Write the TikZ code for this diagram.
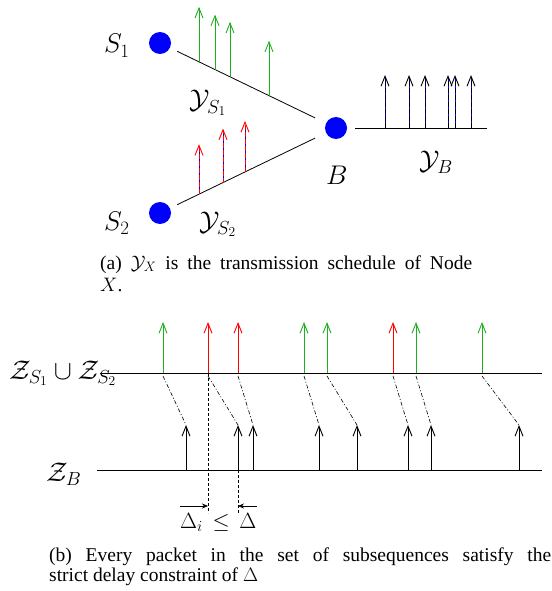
\RequirePackage{fix-cm}
\documentclass[tikz,border=0pt]{standalone}
\usepackage[no-math]{fontspec}
\setmainfont{Liberation Serif}
\usetikzlibrary{calc,arrows.meta}
\definecolor{gr}{RGB}{30,175,30}
\begin{document}
\begin{tikzpicture}[x=1pt,y=-1pt,
  dot/.style={circle,fill=blue,inner sep=0pt,minimum size=22pt},
  lab/.style={font=\fontsize{27}{32}\selectfont,inner sep=0pt,anchor=base west},
  dlab/.style={font=\fontsize{22}{26}\selectfont,inner sep=0pt,anchor=base west},
  captext/.style={font=\fontsize{19.5}{22}\selectfont,inner sep=0pt,anchor=base west},
  tip/.style={-{Straight Barb[length=10pt,width=8pt,line width=0.9pt]}},
  link/.style={line width=0.8pt,black},
  garrow/.style={tip,draw=gr,line width=0.9pt},
  redund/.style={draw=blue,line width=0.6pt},
  reddash/.style={tip,draw=red,line width=0.9pt,dash pattern=on 5pt off 2pt},
  blkdash/.style={tip,draw=black,line width=0.9pt,dash pattern=on 5pt off 2pt},
  barrow/.style={tip,draw=black,line width=0.9pt},
  conn/.style={draw=black,line width=0.6pt,dash pattern=on 4pt off 2pt on 1pt off 2pt},
  guide/.style={draw=black,line width=0.7pt,dash pattern=on 3pt off 2pt},
  delta/.style={-{Stealth[length=6pt,width=5pt]},line width=0.6pt}
]
\useasboundingbox (0,0) rectangle (551,591);

% ---------- (a) ----------
\node[dot] (S1) at (160,43) {};
\node[dot] (S2) at (160,213) {};
\node[dot] (B) at (336,128) {};
\draw[link,shorten <=8pt,shorten >=12pt] (S1) -- (B);
\draw[link,shorten <=8pt,shorten >=12pt] (S2) -- (B);

\node[lab] (lS1) at (104,53) {$S_1$};
\node[lab] (lS2) at (104,230) {$S_2$};
\node[lab] (lB) at (326,184) {$B$};
\node[lab] (lYS1) at (189,109) {$\mathcal{Y}_{S_1}$};
\node[lab] (lYS2) at (199,230) {$\mathcal{Y}_{S_2}$};
\node[lab] (lYB) at (419,169) {$\mathcal{Y}_{B}$};

% green arrows on S1--B
\foreach \t/\n in {0.2216/1,0.3125/2,0.3977/3,0.6193/4}{
  \coordinate (g\n) at ($(S1)!\t!(B)$);
  \draw[garrow] (g\n) -- ++(0,-55);
}
% red arrows on S2--B
\foreach \t/\l/\n in {0.2216/50/1,0.358/54/2,0.483/51/3}{
  \coordinate (r\n) at ($(S2)!\t!(B)$);
  \draw[redund] (r\n) -- ++(0,-\l+4);
  \draw[reddash] (r\n) -- ++(0,-\l);
}
% B output line
\coordinate (Bl) at (355,128);
\coordinate (Br) at (487,128);
\draw[link] (Bl) -- (Br);
\foreach \x/\n in {385/1,409/2,425/3,448/4,455/5,471/6}{
  \coordinate (o\n) at (\x,128);
  \draw[redund] (o\n) -- ++(0,-49);
  \draw[blkdash] (o\n) -- ++(0,-53);
}

\node[captext] (capa1) at (100,269) {\makebox[372pt][s]{(a) $\mathcal{Y}_X$ is the transmission schedule of Node}};
\node[captext] (capa2) at (100,291) {$X$.};

% ---------- (b) ----------
\coordinate (TL) at (100,373);
\coordinate (TR) at (542,373);
\coordinate (BL) at (97,470);
\coordinate (BR) at (542,470);
\draw[link] (TL) -- (TR);
\draw[link] (BL) -- (BR);

\node[lab] (lZS) at (9,379) {$\mathcal{Z}_{S_1}\cup\mathcal{Z}_{S_2}$};
\node[lab] (lZB) at (46,481) {$\mathcal{Z}_B$};

\foreach \xt/\xb/\c/\n in {163/186/gr/1,208/238/red/2,238/253/red/3,304/319/gr/4,327/357/gr/5,393/408/red/6,416/431/gr/7,482/519/gr/8}{
  \coordinate (t\n) at (\xt,373);
  \coordinate (b\n) at (\xb,470);
  \coordinate (bt\n) at (\xb,425);
  \draw[tip,draw=\c,line width=0.9pt] (t\n) -- ++(0,-51);
  \draw[barrow] (b\n) -- (bt\n);
  \draw[conn] ($(t\n)+(0,3)$) -- (bt\n);
}

\coordinate (g2) at (208,513);
\coordinate (g3) at (238,513);
\draw[guide] (t2) -- (g2);
\draw[guide] (b2) -- (g3);
\coordinate (dl) at (180,506);
\coordinate (dr) at (257,506);
\draw[delta] (dl) -- (208,506);
\draw[delta] (dr) -- (238,506);
\node[dlab] (lD) at (180,528) {$\Delta_i\,\leq\,\Delta$};

\node[captext] (capb1) at (49,561) {\makebox[502pt][s]{(b) Every packet in the set of subsequences satisfy the}};
\node[captext] (capb2) at (49,581) {strict delay constraint of $\Delta$};
\end{tikzpicture}
\end{document}
